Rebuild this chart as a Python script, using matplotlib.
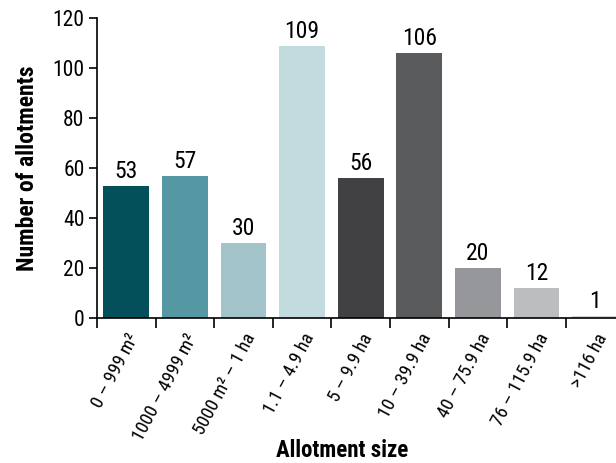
import matplotlib
matplotlib.use("Agg")
import matplotlib.pyplot as plt
import numpy as np

# data
sizes = ["0 – 999 m²", "1000 – 4999 m²", "5000 m² – 1 ha", "1.1 – 4.9 ha",
         "5 – 9.9 ha", "10 – 39.9 ha", "40 – 75.9 ha", "76 – 115.9 ha", ">116 ha"]
counts = [53, 57, 30, 109, 56, 106, 20, 12, 1]
colors = ["#03505a", "#5597a2", "#a2c3c9", "#c2dbdf", "#414143",
          "#5a5b5d", "#96979a", "#bcbdbf", "#d4d4d5"]

plt.rcParams['font.family'] = ['Roboto Condensed', 'DejaVu Sans']

fig = plt.figure(figsize=(6.16, 4.63), dpi=100)
ax = fig.add_axes([0.1575, 0.313, 0.8427, 0.648])

x = np.arange(len(counts))
ax.bar(x, counts, width=0.78, color=colors)
for xi, c in zip(x, counts):
    ax.text(xi, c + 1.2, str(c), ha='center', va='bottom', fontsize=17)

ax.set_xlim(-0.5, 8.36)
ax.set_ylim(0, 120)
ax.set_yticks(range(0, 121, 20))
ax.tick_params(axis='y', labelsize=15.5, length=6, width=1.2, pad=3)
ax.set_xticks(x)
ax.set_xticklabels(sizes, rotation=62, ha='right', rotation_mode='anchor', fontsize=13.5)
ax.tick_params(axis='x', which='major', length=0, pad=9)
ax.set_xticks(np.arange(len(counts)) - 0.5, minor=True)
ax.tick_params(axis='x', which='minor', length=7, width=1.2)

for s in ['top', 'right']:
    ax.spines[s].set_visible(False)
for s in ['left', 'bottom']:
    ax.spines[s].set_linewidth(1.2)

ax.set_ylabel("Number of allotments", fontsize=17, fontweight='bold', labelpad=10)
# x label sits level with the lower ends of the tick labels, as in the source
fig.text(0.555, 0.026, "Allotment size", fontsize=16.5, fontweight='bold',
         ha='center', va='center')

fig.savefig("out.png", dpi=100)
